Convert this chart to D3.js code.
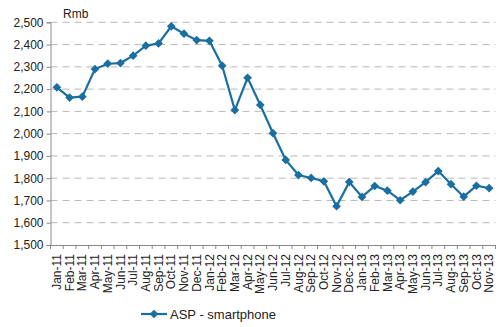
<!DOCTYPE html>
<html><head><meta charset="utf-8">
<script src="https://cdn.jsdelivr.net/npm/d3@7"></script>
<style>body{margin:0;background:#fff}svg{display:block}text{font-family:"Liberation Sans",Arial,sans-serif;fill:#222}</style>
</head><body><svg id="c" width="500" height="327"></svg>
<script>
const months = ["Jan-11","Feb-11","Mar-11","Apr-11","May-11","Jun-11","Jul-11","Aug-11","Sep-11","Oct-11","Nov-11","Dec-11",
"Jan-12","Feb-12","Mar-12","Apr-12","May-12","Jun-12","Jul-12","Aug-12","Sep-12","Oct-12","Nov-12","Dec-12",
"Jan-13","Feb-13","Mar-13","Apr-13","May-13","Jun-13","Jul-13","Aug-13","Sep-13","Oct-13","Nov-13"];
const asp = [2208,2162,2166,2290,2314,2317,2350,2395,2405,2482,2449,2420,
2417,2305,2106,2251,2129,2002,1882,1814,1801,1786,1674,1783,
1716,1765,1744,1701,1740,1782,1832,1773,1717,1766,1755];
const yTicks = [1500,1600,1700,1800,1900,2000,2100,2200,2300,2400,2500];
const seriesName = "ASP - smartphone";
const unitLabel = "Rmb";
const color = "#1a6ea0";

const svg = d3.select("#c");
const L = 50.5, R = 495.5, T = 22.3, B = 245;
const x = d3.scaleBand().domain(months).range([L, R]);
const y = d3.scaleLinear().domain([1500,2500]).range([B, T]);

// grid
svg.append("g").selectAll("line").data(yTicks.slice(1)).join("line")
  .attr("x1", L).attr("x2", R).attr("y1", d=>y(d)).attr("y2", d=>y(d))
  .attr("stroke", "#b8b8b8").attr("stroke-width", 1).attr("stroke-dasharray", "7,5");

// y axis
const ya = svg.append("g").attr("transform", `translate(${L},0)`)
  .call(d3.axisLeft(y).tickValues(yTicks).tickFormat(d3.format(",")).tickSize(4).tickPadding(3));
ya.select(".domain").attr("stroke", "#888");
ya.selectAll(".tick line").attr("stroke", "#888");
ya.selectAll("text").style("font-size", "12px").attr("fill", "#222");

// x axis
const xa = svg.append("g").attr("transform", `translate(0,${B})`)
  .call(d3.axisBottom(x).tickSize(0).tickPadding(0));
xa.select(".domain").attr("stroke", "#888");
xa.selectAll(".tick text").attr("transform", "rotate(-90)")
  .attr("x", -9).attr("y", 0).attr("dy", "0.35em").attr("text-anchor", "end")
  .style("font-size", "12px").attr("fill", "#222");
svg.append("g").selectAll("line").data(months.concat(["end"])).join("line")
  .attr("x1", (d,i)=>L + i*x.step()).attr("x2", (d,i)=>L + i*x.step())
  .attr("y1", B).attr("y2", B+4).attr("stroke", "#888");

// line
const line = d3.line().x((d,i)=>x(months[i])+x.bandwidth()/2).y(d=>y(d));
svg.append("path").datum(asp).attr("d", line).attr("fill","none")
  .attr("stroke", color).attr("stroke-width", 2.2);
const sym = d3.symbol().type(d3.symbolSquare).size(38);
svg.append("g").selectAll("path").data(asp).join("path")
  .attr("d", sym)
  .attr("transform", (d,i)=>`translate(${x(months[i])+x.bandwidth()/2},${y(d)}) rotate(45)`)
  .attr("fill", color);

svg.append("text").attr("x", 63).attr("y", 18).text(unitLabel).style("font-size", "12px");

// legend
const lg = svg.append("g");
lg.append("line").attr("x1", 141).attr("x2", 167).attr("y1", 314).attr("y2", 314).attr("stroke", color).attr("stroke-width", 2.2);
lg.append("path").attr("d", sym).attr("transform", "translate(154,314) rotate(45)").attr("fill", color);
lg.append("text").attr("x", 170).attr("y", 318.5).text(seriesName).style("font-size", "13px");
</script></body></html>
